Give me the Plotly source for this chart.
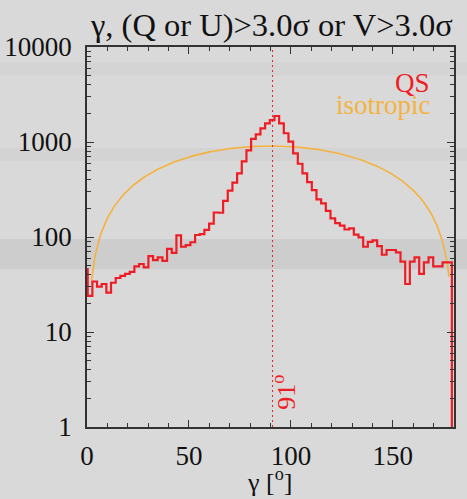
import numpy as np
import plotly.graph_objects as go

# Histogram of field inclination gamma for the quiet-Sun (QS) pixels
BIN_WIDTH = 2.29          # degrees per bin
FIRST_CENTER = -0.805     # centre of the first bin, degrees
QS_COUNTS = [
    46, 24, 34, 30, 32, 26, 33, 37, 39, 41,
    43, 49, 52, 48, 63, 57, 61, 56, 75, 68,
    104, 79, 82, 88, 105, 107, 119, 138, 181, 180,
    240, 307, 373, 467, 625, 815, 1080, 1205, 1393, 1574,
    1700, 1878, 1574, 1236, 1007, 760, 590, 468, 378, 312,
    249, 226, 188, 157, 140, 132, 120, 123, 106, 99,
    79, 89, 92, 80, 65, 73, 73, 69, 55, 32,
    55, 61, 41, 54, 61, 49, 49, 54, 54, 0,
]

# Isotropic reference distribution (proportional to sin gamma)
ISO_PEAK = 908
ISO_START, ISO_END = 2.2, 177.6

PEAK_ANGLE = 91           # marked angle, degrees

TITLE = "γ, (Q or U)>3.0σ or V>3.0σ"
X_TITLE = "γ [<sup>o</sup>]"

RED = "#ee1d25"
ORANGE = "#f5b23c"
AXIS = "#333333"
BG = "#d9d9d9"
FONT = "Liberation Serif"

gamma = FIRST_CENTER + BIN_WIDTH * np.arange(len(QS_COUNTS))
# empty bins sit below the lower limit of the log axis
counts = np.where(np.array(QS_COUNTS) > 0, np.array(QS_COUNTS, float), 0.05)

iso_gamma = np.linspace(ISO_START, ISO_END, 400)
iso = ISO_PEAK * np.sin(np.radians(iso_gamma))

fig = go.Figure()
fig.add_trace(go.Scatter(x=iso_gamma, y=iso, mode="lines",
                         line=dict(color=ORANGE, width=1.6), showlegend=False))
fig.add_trace(go.Scatter(x=gamma, y=counts, mode="lines",
                         line=dict(color=RED, width=2.2, shape="hvh"),
                         showlegend=False))

# faint horizontal banding of the background
for y0, y1, op in [(0.415, 0.495, 0.055), (0.70, 0.735, 0.025), (0.925, 0.96, 0.02)]:
    fig.add_shape(type="rect", xref="paper", yref="paper",
                  x0=-0.3, x1=1.1, y0=y0, y1=y1, layer="below",
                  line=dict(width=0), fillcolor=f"rgba(0,0,0,{op})")

fig.add_shape(type="line", xref="x", yref="paper", x0=PEAK_ANGLE, x1=PEAK_ANGLE,
              y0=0, y1=1, line=dict(color=RED, width=1, dash="2px,3px"))

fig.add_annotation(x=PEAK_ANGLE, y=0.09, xref="x", yref="paper",
                   text=f"{PEAK_ANGLE}<sup>o</sup>", textangle=-90, showarrow=False,
                   xanchor="left", yanchor="middle", xshift=-6,
                   font=dict(family=FONT, size=26, color=RED))

fig.add_annotation(x=0.94, y=0.905, xref="paper", yref="paper", text="QS",
                   showarrow=False, xanchor="right", yanchor="middle",
                   font=dict(family=FONT, size=27, color=RED))
fig.add_annotation(x=0.943, y=0.848, xref="paper", yref="paper", text="isotropic",
                   showarrow=False, xanchor="right", yanchor="middle",
                   font=dict(family=FONT, size=27, color=ORANGE))

fig.add_annotation(x=0.503, y=1.058, xref="paper", yref="paper", text=TITLE,
                   showarrow=False, xanchor="center", yanchor="middle",
                   font=dict(family=FONT, size=32.5, color="#111111"))
fig.add_annotation(x=0.497, y=-0.14, xref="paper", yref="paper", text=X_TITLE,
                   showarrow=False, xanchor="center", yanchor="middle",
                   font=dict(family=FONT, size=26, color="#111111"))

fig.update_xaxes(range=[0, 180], tickmode="linear", tick0=0, dtick=50,
                 ticks="inside", ticklen=7, tickwidth=1, tickcolor=AXIS,
                 minor=dict(ticks="inside", dtick=10, ticklen=4, tickcolor=AXIS),
                 showline=True, linecolor=AXIS, linewidth=1.5, mirror="allticks",
                 showgrid=False, zeroline=False, ticklabelstandoff=4,
                 automargin=False,
                 tickfont=dict(family=FONT, size=27, color="#111111"))
fig.update_yaxes(type="log", range=[0, 4], dtick=1,
                 tickvals=[1, 10, 100, 1000, 10000],
                 ticktext=["1", "10", "100", "1000", "10000"],
                 ticks="inside", ticklen=7, tickwidth=1, tickcolor=AXIS,
                 minor=dict(ticks="inside", dtick="D1", ticklen=4, tickcolor=AXIS),
                 showline=True, linecolor=AXIS, linewidth=1.5, mirror="allticks",
                 showgrid=False, zeroline=False, ticklabelstandoff=8,
                 automargin=False,
                 tickfont=dict(family=FONT, size=27, color="#111111"))

fig.update_layout(width=467, height=499, autosize=False,
                  margin=dict(l=87, r=13, t=47, b=72),
                  paper_bgcolor=BG, plot_bgcolor=BG, showlegend=False)

fig.write_html("out.html")
